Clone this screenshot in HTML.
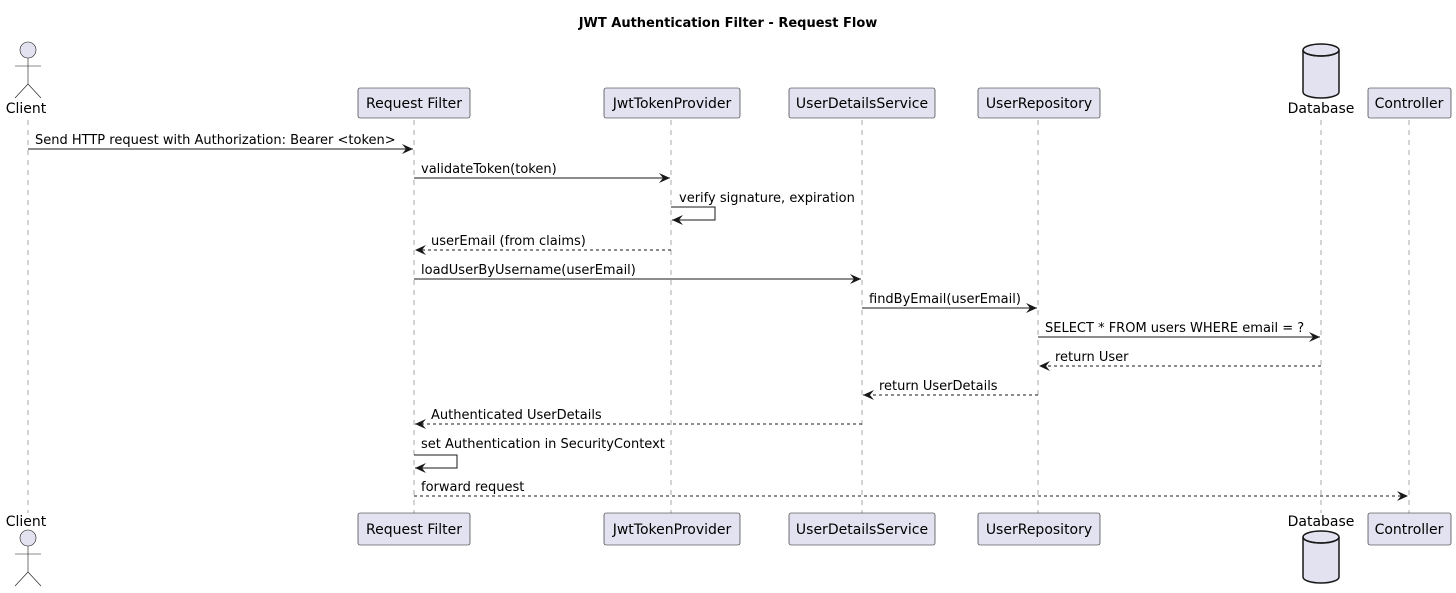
<!DOCTYPE html>
<html><head><meta charset="utf-8"><style>body{margin:0;background:#fff}svg{display:block}text{font-family:"DejaVu Sans","Liberation Sans",sans-serif;font-size:13px;fill:#000}.b{font-size:14px}</style></head><body>
<svg width="1456" height="593" viewBox="0 0 1456 593" xmlns="http://www.w3.org/2000/svg">
<defs><marker id="a" markerWidth="12" markerHeight="10" refX="11" refY="5" orient="auto" markerUnits="userSpaceOnUse"><path d="M0,0 L11,5 L0,10 L4,5 Z" fill="#181818"/></marker></defs>
<text x="728" y="27" text-anchor="middle" style="font-weight:bold;font-size:13px">JWT Authentication Filter - Request Flow</text>
<g stroke="#555" stroke-width="0.5" stroke-dasharray="5,5">
<line x1="28" y1="120" x2="28" y2="513"/><line x1="414" y1="120" x2="414" y2="513"/><line x1="671" y1="120" x2="671" y2="513"/><line x1="862" y1="120" x2="862" y2="513"/><line x1="1038" y1="120" x2="1038" y2="513"/><line x1="1321" y1="120" x2="1321" y2="513"/><line x1="1409" y1="120" x2="1409" y2="513"/>
</g>
<g fill="#E2E2F0" stroke="#181818" stroke-width="0.6">
<rect x="358" y="88" width="112" height="30" rx="2"/><rect x="604" y="88" width="136" height="30" rx="2"/><rect x="789" y="88" width="146" height="30" rx="2"/><rect x="978" y="88" width="122" height="30" rx="2"/><rect x="1368" y="88" width="83" height="30" rx="2"/>
<rect x="358" y="513" width="112" height="32" rx="2"/><rect x="604" y="513" width="136" height="32" rx="2"/><rect x="789" y="513" width="146" height="32" rx="2"/><rect x="978" y="513" width="122" height="32" rx="2"/><rect x="1368" y="513" width="83" height="32" rx="2"/>
</g>
<g text-anchor="middle" class="b">
<text class="b" x="414" y="108">Request Filter</text><text class="b" x="672" y="108">JwtTokenProvider</text><text class="b" x="862" y="108">UserDetailsService</text><text class="b" x="1039" y="108">UserRepository</text><text class="b" x="1409" y="108">Controller</text>
<text class="b" x="414" y="534">Request Filter</text><text class="b" x="672" y="534">JwtTokenProvider</text><text class="b" x="862" y="534">UserDetailsService</text><text class="b" x="1039" y="534">UserRepository</text><text class="b" x="1409" y="534">Controller</text>
<text class="b" x="26" y="113">Client</text><text class="b" x="1321" y="113">Database</text><text class="b" x="26" y="526">Client</text><text class="b" x="1321" y="526">Database</text>
</g>
<g fill="#E2E2F0" stroke="#181818" stroke-width="0.6">
<circle cx="28" cy="50" r="8"/><path d="M28,58 V84 M15,66 H41 M28,84 L15,98 M28,84 L41,98" fill="none"/>
<circle cx="28" cy="538" r="8"/><path d="M28,546 V572 M15,554 H41 M28,572 L15,586 M28,572 L41,586" fill="none"/>
</g>
<g fill="#E2E2F0" stroke="#181818" stroke-width="1.5">
<path d="M1303,50 V92 A18,6 0 0 0 1339,92 V50"/><ellipse cx="1321" cy="50" rx="18" ry="6"/><path d="M1303,50 A18,6 0 0 0 1339,50" fill="none"/>
<path d="M1303,537 V577 A18,6 0 0 0 1339,577 V537"/><ellipse cx="1321" cy="537" rx="18" ry="6"/><path d="M1303,537 A18,6 0 0 0 1339,537" fill="none"/>
</g>
<g stroke="#181818" stroke-width="1" fill="none" marker-end="url(#a)">
<line x1="28" y1="149" x2="413" y2="149"/>
<line x1="414" y1="178" x2="670" y2="178"/>
<path d="M671,207 H715 V220 H672"/>
<line x1="671" y1="250" x2="415" y2="250" stroke-dasharray="3,3"/>
<line x1="414" y1="279" x2="861" y2="279"/>
<line x1="862" y1="308" x2="1037" y2="308"/>
<line x1="1038" y1="337" x2="1320" y2="337"/>
<line x1="1321" y1="366" x2="1039" y2="366" stroke-dasharray="3,3"/>
<line x1="1038" y1="395" x2="863" y2="395" stroke-dasharray="3,3"/>
<line x1="862" y1="424" x2="415" y2="424" stroke-dasharray="3,3"/>
<path d="M414,455 H457 V468 H415"/>
<line x1="414" y1="496" x2="1408" y2="496" stroke-dasharray="3,3"/>
</g>
<text x="35" y="144">Send HTTP request with Authorization: Bearer &lt;token&gt;</text>
<text x="421" y="173">validateToken(token)</text>
<text x="679" y="202">verify signature, expiration</text>
<text x="431" y="245">userEmail (from claims)</text>
<text x="421" y="274">loadUserByUsername(userEmail)</text>
<text x="869" y="303">findByEmail(userEmail)</text>
<text x="1045" y="332">SELECT * FROM users WHERE email = ?</text>
<text x="1055" y="361">return User</text>
<text x="879" y="390">return UserDetails</text>
<text x="431" y="419">Authenticated UserDetails</text>
<text x="421" y="448">set Authentication in SecurityContext</text>
<text x="421" y="491">forward request</text>
</svg>
</body></html>
